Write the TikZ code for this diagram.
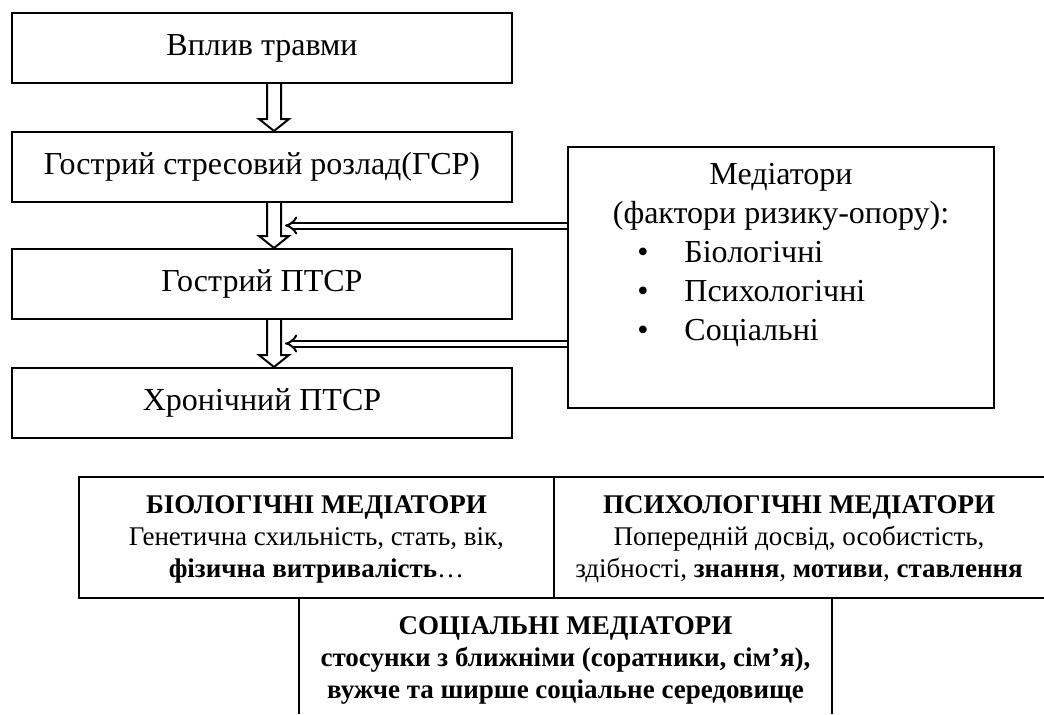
\documentclass[tikz,border=0pt]{standalone}
\usepackage{fontspec}
\setmainfont{Liberation Serif}
\usetikzlibrary{calc,arrows.meta}
\newcommand\hollowdown[2]{%
  \draw[harrow] ($(#1.south)+(5,0)$) -- ($(#2.north)+(5,-12)$) -- ($(#2.north)+(-3,-12)$)
    -- ($(#2.north)+(12,0)$) -- ($(#2.north)+(27,-12)$) -- ($(#2.north)+(19,-12)$)
    -- ($(#1.south)+(19,0)$);}
\begin{document}
\begin{tikzpicture}[x=0.5pt,y=-0.5pt,
  flowbox/.style={draw,line width=1pt,minimum width=250pt,minimum height=35pt,inner sep=0pt,
    font=\fontsize{16}{19.5}\selectfont},
  medbox/.style={draw,line width=1pt,minimum width=213pt,minimum height=130.5pt,inner sep=0pt},
  medtext/.style={inner sep=0pt,font=\fontsize{16}{19.5}\selectfont},
  harrow/.style={line width=1pt,line join=miter},
  dblarrow/.style={double,double distance=2pt,line width=1pt,-{Implies[scale=1.3]}},
  tline/.style={line width=0.9pt},
  celltext/.style={inner sep=0pt,align=center,font=\fontsize{13.5}{16}\selectfont}]
\useasboundingbox (0,0) rectangle (1044,714);
% flow boxes
\node[flowbox] (b1) at (262,48) {Вплив травми};
\node[flowbox] (b2) at (262,167) {Гострий стресовий розлад(ГСР)};
\node[flowbox] (b3) at (262,284) {Гострий ПТСР};
\node[flowbox] (b4) at (262,403) {Хронічний ПТСР};
\hollowdown{b1}{b2}
\hollowdown{b2}{b3}
\hollowdown{b3}{b4}
% mediators box
\node[medbox] (rb) at (781,277.5) {};
\node[medtext,anchor=base] (m1) at ($(rb.north)+(0,38)$) {Медіатори};
\node[medtext,anchor=base] (m2) at ($(rb.north)+(0,77)$) {(фактори ризику-опору):};
\node[medtext,anchor=base] (d1) at ($(rb.north west)+(76,116)$) {•};
\node[medtext,anchor=base west] (l1) at ($(rb.north west)+(117,116)$) {Біологічні};
\node[medtext,anchor=base] (d2) at ($(rb.north west)+(76,155)$) {•};
\node[medtext,anchor=base west] (l2) at ($(rb.north west)+(117,155)$) {Психологічні};
\node[medtext,anchor=base] (d3) at ($(rb.north west)+(76,194)$) {•};
\node[medtext,anchor=base west] (l3) at ($(rb.north west)+(117,194)$) {Соціальні};
% double arrows
\coordinate (t1) at ($(b2.south)!0.5!(b3.north)+(23,0)$);
\coordinate (t2) at ($(b3.south)!0.5!(b4.north)+(23,0)$);
\draw[dblarrow] (rb.west |- t1) -- (t1);
\draw[dblarrow] (rb.west |- t2) -- (t2);
% table
\draw[tline] (1044,477) -- (79,477) -- (79,598) -- (1044,598);
\draw[tline] (554,477) -- (554,598);
\draw[tline] (299,714) -- (299,598);
\draw[tline] (832,598) -- (832,714);
\node[celltext] (bio) at (316.5,539) {\textbf{БІОЛОГІЧНІ МЕДІАТОРИ}\\Генетична схильність, стать, вік,\\\textbf{фізична витривалість}…};
\node[celltext] (psy) at (799,539) {\textbf{ПСИХОЛОГІЧНІ МЕДІАТОРИ}\\Попередній досвід, особистість,\\здібності, \textbf{знання}, \textbf{мотиви}, \textbf{ставлення}};
\node[celltext] (soc) at (565.5,660) {\textbf{СОЦІАЛЬНІ МЕДІАТОРИ}\\\textbf{стосунки з ближніми (соратники, сім’я),}\\\textbf{вужче та ширше соціальне середовище}};
\end{tikzpicture}
\end{document}
